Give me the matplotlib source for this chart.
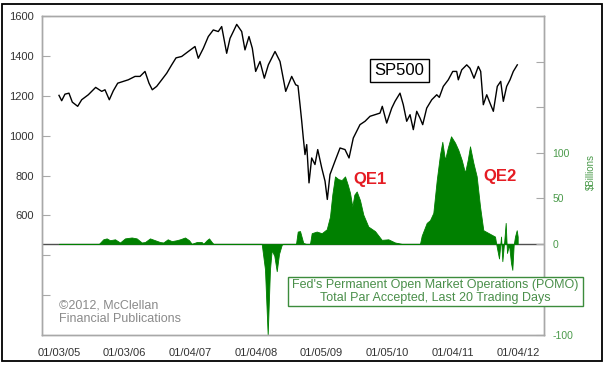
import matplotlib
matplotlib.use("Agg")
import matplotlib.pyplot as plt
from matplotlib.patches import Rectangle

plt.rcParams['font.family'] = ['Liberation Sans', 'DejaVu Sans']

# ---- data (x in decimal years) ----
sp_t = [2005.000, 2005.041, 2005.091, 2005.152, 2005.203, 2005.285, 2005.346, 2005.447,
        2005.559, 2005.651, 2005.701, 2005.767, 2005.828, 2005.895, 2005.980, 2006.056,
        2006.159, 2006.235, 2006.311, 2006.372, 2006.422, 2006.489, 2006.566, 2006.642,
        2006.718, 2006.784, 2006.870, 2006.971, 2007.073, 2007.123, 2007.200, 2007.276,
        2007.352, 2007.428, 2007.480, 2007.556, 2007.607, 2007.657, 2007.709, 2007.785,
        2007.835, 2007.896, 2007.947, 2007.998, 2008.064, 2008.130, 2008.191, 2008.293,
        2008.369, 2008.456, 2008.547, 2008.608, 2008.643, 2008.674, 2008.700, 2008.724,
        2008.750, 2008.776, 2008.811, 2008.852, 2008.902, 2008.944, 2009.005, 2009.055,
        2009.090, 2009.131, 2009.207, 2009.284, 2009.360, 2009.421, 2009.486, 2009.588,
        2009.665, 2009.741, 2009.817, 2009.893, 2009.928, 2009.995, 2010.072, 2010.122,
        2010.198, 2010.248, 2010.300, 2010.351, 2010.401, 2010.453, 2010.503, 2010.544,
        2010.605, 2010.682, 2010.758, 2010.797, 2010.858, 2010.934, 2011.002, 2011.062,
        2011.087, 2011.139, 2011.215, 2011.265, 2011.326, 2011.392, 2011.428, 2011.468,
        2011.520, 2011.570, 2011.621, 2011.681, 2011.733, 2011.773, 2011.824, 2011.875,
        2011.925, 2011.986]
sp_v = [1202, 1175, 1208, 1213, 1168, 1147, 1180, 1205,
        1242, 1222, 1230, 1180, 1225, 1263, 1272, 1280,
        1297, 1297, 1322, 1263, 1230, 1247, 1280, 1313,
        1355, 1390, 1397, 1422, 1447, 1388, 1438, 1497,
        1530, 1522, 1547, 1413, 1488, 1522, 1558, 1522,
        1430, 1497, 1438, 1322, 1372, 1288, 1355, 1422,
        1372, 1222, 1297, 1255, 1250, 1155, 1072, 988,
        905, 955, 763, 888, 855, 930, 838, 772,
        680, 805, 872, 938, 930, 888, 988, 1055,
        1072, 1097, 1105, 1113, 1147, 1063, 1138, 1172,
        1213, 1155, 1072, 1105, 1030, 1122, 1088, 1055,
        1138, 1180, 1205, 1192, 1247, 1280, 1322, 1322,
        1280, 1330, 1355, 1338, 1288, 1347, 1322, 1155,
        1205, 1163, 1122, 1247, 1272, 1172, 1247, 1280,
        1322, 1355]

pomo_t = [2005.000, 2005.610, 2005.675, 2005.727, 2005.777, 2005.854, 2005.930, 2006.006,
          2006.108, 2006.184, 2006.261, 2006.311, 2006.387, 2006.463, 2006.540, 2006.590,
          2006.657, 2006.718, 2006.794, 2006.845, 2006.921, 2006.982, 2007.023, 2007.099,
          2007.175, 2007.200, 2007.252, 2007.287, 2007.328, 2007.352,
          2008.090, 2008.140, 2008.181, 2008.216, 2008.242, 2008.282, 2008.319, 2008.354,
          2008.395, 2008.415, 2008.613, 2008.639, 2008.674, 2008.724, 2008.765, 2008.826,
          2008.852, 2008.928, 2009.005, 2009.081, 2009.131, 2009.166, 2009.207, 2009.258,
          2009.309, 2009.360, 2009.401, 2009.436, 2009.471, 2009.502, 2009.538, 2009.588,
          2009.639, 2009.715, 2009.817, 2009.919, 2010.020, 2010.122, 2010.224, 2010.503,
          2010.529, 2010.605, 2010.655, 2010.706, 2010.758, 2010.808, 2010.843, 2010.884,
          2010.925, 2010.976, 2011.037, 2011.087, 2011.139, 2011.189, 2011.230, 2011.265,
          2011.316, 2011.367, 2011.418, 2011.468, 2011.544, 2011.646, 2011.672, 2011.707,
          2011.738, 2011.758, 2011.788, 2011.809, 2011.829, 2011.860, 2011.890, 2011.910,
          2011.931, 2011.951, 2011.977, 2011.992]
pomo_v = [0, 0, 5, 6, 4, 5, 1.5, 6,
          7, 6, 1.5, 2, 6, 4, 2, 1.5,
          5, 3, 4, 5, 7, 4, 0, 2,
          2, 0, 4, 6, 2, 0,
          0, -28, -100, -28, -7, -13, -30, -11,
          -1, 0, 0, 13.5, 14, 1, 0, 0,
          11.7, 13.5, 11.7, 16, 30, 54, 74, 71,
          70, 74, 65, 56, 41, 54, 57.5, 48,
          32, 19, 14, 4.4, 5, 1.5, 0, 0,
          9, 23, 26, 34, 70, 98, 112, 92,
          105, 118, 111, 103, 92, 78, 92, 107,
          89, 74, 41, 15, 12, 8, -3, -16,
          8, -19, 4, 23, -10, -1, -21, -28.5,
          -1, 8, 15, 8]

x_ticks = [2005, 2006, 2007, 2008, 2009, 2010, 2011, 2012]
x_labels = ['01/03/05', '01/03/06', '01/04/07', '01/04/08', '01/05/09', '01/05/10', '01/04/11', '01/04/12']
sp_ticks = [200, 400, 600, 800, 1000, 1200, 1400, 1600]
sp_labels = ['', '', '600', '800', '1000', '1200', '1400', '1600']
pomo_ticks = [-100, -50, 0, 50, 100, 150, 200]
pomo_labels = ['-100', '', '0', '50', '100', '', '']

W, H = 605, 367
fig = plt.figure(figsize=(W / 100, H / 100), dpi=100)
ax = fig.add_axes([42 / W, 1 - 335 / H, (544 - 42) / W, (335 - 16) / H])
ax2 = ax.twinx()

frame_c = '#a8a8a8'
green = '#008000'

# POMO (right axis)
ax2.axhline(0, color='#505050', lw=1.0, zorder=1)
ax2.fill_between(pomo_t, pomo_v, 0, color=green, lw=0.6, edgecolor=green, zorder=2)
ax2.set_ylim(-100, 250)
ax2.set_yticks(pomo_ticks)
ax2.set_yticklabels(pomo_labels)
ax2.tick_params(axis='y', direction='in', length=6, color=frame_c, labelcolor='#4a9a4a',
                labelsize=7.5, pad=6)

# SP500 (left axis) on top
ax.set_zorder(ax2.get_zorder() + 1)
ax.patch.set_visible(False)
ax.plot(sp_t, sp_v, color='black', lw=1.0)
ax.set_ylim(0, 1600)
ax.set_xlim(2004.741, 2012.393)
ax.set_yticks(sp_ticks)
ax.set_yticklabels(sp_labels)
ax.set_xticks(x_ticks)
ax.set_xticklabels(x_labels)
ax.tick_params(axis='y', direction='in', length=6, color=frame_c, labelcolor='#333333',
               labelsize=8, pad=6)
ax.tick_params(axis='x', length=0, labelcolor='#333333', labelsize=8, pad=9)

for a in (ax, ax2):
    for s in a.spines.values():
        s.set_color(frame_c)
        s.set_linewidth(1.0)

ax.text(2010.19, 1325, 'SP500', fontsize=12, ha='center', va='center',
        bbox=dict(boxstyle='square,pad=0.25', fc='white', ec='black', lw=1))
ax.text(2009.741, 780, 'QE1', fontsize=12, fontweight='bold', color='#e51c23',
        ha='center', va='center')
ax.text(2011.723, 795, 'QE2', fontsize=12, fontweight='bold', color='#e51c23',
        ha='center', va='center')

# POMO description box
fig.patches.append(Rectangle((288 / W, 1 - 306 / H), (583 - 288) / W, (306 - 277) / H,
                             transform=fig.transFigure, fc='white', ec='#3c8c3c', lw=1.0,
                             zorder=5))
fig.text(435.5 / W, 1 - 291.5 / H,
         "Fed's Permanent Open Market Operations (POMO)\nTotal Par Accepted, Last 20 Trading Days",
         ha='center', va='center', fontsize=9, color='#4a8f4a', linespacing=1.1, zorder=6)

fig.text(59 / W, 1 - 312 / H, "\u00a92012, McClellan\nFinancial Publications",
         ha='left', va='center', fontsize=9, color='#8a8a8a', linespacing=1.15)

fig.text(591 / W, 1 - 172 / H, '$Billions', rotation=90, ha='center', va='center',
         fontsize=7, color='#4a9a4a')

# outer border
fig.patches.append(Rectangle((2 / W, 1 - 361 / H), 600 / W, 357 / H,
                             transform=fig.transFigure, fill=False, ec='black', lw=1.3))

fig.savefig('out.png', dpi=100)
